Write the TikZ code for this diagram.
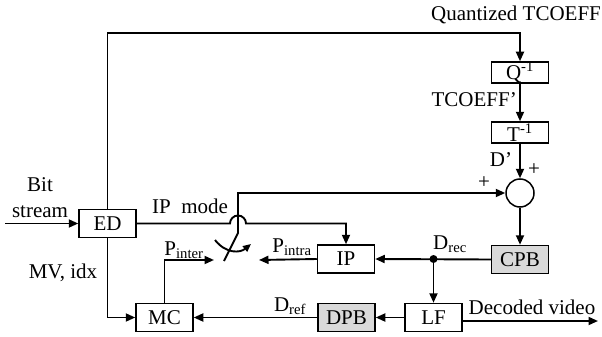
\documentclass[tikz,border=0pt]{standalone}
\usepackage{fontspec}
\setmainfont{Liberation Serif}
\usetikzlibrary{arrows.meta}
\definecolor{boxgray}{RGB}{217,217,217}
\begin{document}
\begin{tikzpicture}[x=1pt,y=-1pt,
  font=\fontsize{21}{25}\selectfont,
  blk/.style={draw, line width=1.5pt, minimum width=57pt, minimum height=28pt, inner sep=0pt},
  shaded/.style={blk, fill=boxgray},
  wire/.style={line width=1.9pt},
  arr/.style={wire, -{Triangle[length=9.5pt,width=8pt]}},
  lbl/.style={inner sep=0pt}]
\useasboundingbox (0,0) rectangle (602,337);

% processing blocks
\node[blk] (ED) at (107.5,223.5) {ED};
\node[blk, minimum height=21pt] (Q) at (520,72.5) {Q\textsuperscript{-1}};
\node[blk, minimum height=21pt] (T) at (520,132.5) {T\textsuperscript{-1}};
\node[draw, circle, line width=1.5pt, minimum size=28pt, inner sep=0pt] (add) at (520,193) {};
\node[shaded] (CPB) at (520,259.5) {CPB};
\node[blk] (IP) at (346,259) {IP};
\node[blk] (MC) at (164.5,317.5) {MC};
\node[shaded] (DPB) at (346.5,317.5) {DPB};
\node[blk] (LF) at (433.5,317.5) {LF};

% free ends and bends
\coordinate (bsin) at (5,223.5);
\coordinate (qtop) at (520,33);
\coordinate (hopL) at (230,223.5);
\coordinate (swtop) at (238,233);
\coordinate (swbot) at (224,261);
\coordinate (pinter) at (214,260);
\coordinate (pintra) at (259,260);
\coordinate (drec) at (433.5,259);
\coordinate (out) at (598,321);
\coordinate (selA) at (215,240);
\coordinate (selB) at (251,244);

% connectors
\draw[arr] (bsin) -- (ED.west);
\draw[arr] (ED.north) |- (qtop) -- (Q.north);
\draw[arr] (Q) -- (T);
\draw[arr] (T) -- (add);
\draw[arr] (add) -- (CPB);
\draw[arr] (ED.east) -- (hopL) arc[start angle=180, end angle=0, radius=8pt]
  -- (IP.north |- ED.east) -- (IP.north);
\draw[arr] (swbot) -- (swtop) -- (swtop |- add.west) -- (add.west);
\draw[wire, -{Triangle[length=8pt,width=7pt]}] (selA) .. controls (226,254) and (240,253) .. (selB);
\draw[arr] (MC.north) |- (pinter);
\draw[arr] (IP.west) -- (pintra);
\draw[arr] (ED.south) |- (MC.west);
\draw[arr] (DPB) -- (MC);
\draw[arr] (LF) -- (DPB);
\draw[arr] (CPB.west) -- (IP.east);
\fill (drec) circle (4pt);
\draw[arr] (drec) -- (LF.north);
\draw[arr] ([yshift=-3.5pt]LF.east) -- (out);

% labels
\node[lbl] at (516,15) {Quantized TCOEFF};
\node[lbl, anchor=east] at (517,100) {TCOEFF’};
\node[lbl] at (501,160) {D’};
\node[lbl] at (534,170) {+};
\node[lbl] at (484,183) {+};
\node[lbl] at (40,185) {Bit};
\node[lbl] at (40,212) {stream};
\node[lbl] at (63,273) {MV, idx};
\node[lbl] at (190,206) {IP\ \ mode};
\node[lbl] at (184,250) {P\textsubscript{inter}};
\node[lbl] at (292,247) {P\textsubscript{intra}};
\node[lbl] at (290,306) {D\textsubscript{ref}};
\node[lbl] at (450,244) {D\textsubscript{rec}};
\node[lbl] at (532,307) {Decoded video};
\end{tikzpicture}
\end{document}
